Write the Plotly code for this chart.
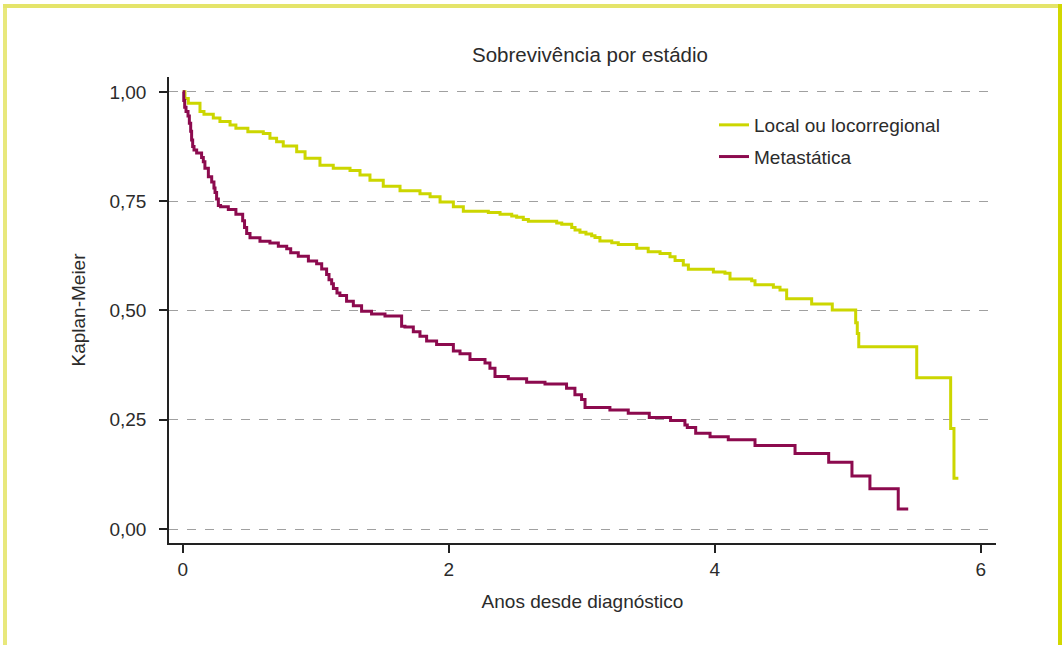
import plotly.graph_objects as go

# ---- data ----
local_t = [0, 0.017, 0.042, 0.13, 0.16, 0.23, 0.28, 0.356, 0.40, 0.49, 0.606, 0.656, 0.706,
           0.756, 0.857, 0.92, 1.032, 1.132, 1.258, 1.333, 1.408, 1.508, 1.634, 1.784, 1.86,
           1.935, 2.035, 2.11, 2.298, 2.386, 2.474, 2.511, 2.561, 2.599, 2.812, 2.85, 2.925,
           2.95, 2.987, 3.032, 3.075, 3.1, 3.137, 3.226, 3.275, 3.414, 3.50, 3.589, 3.664,
           3.702, 3.764, 3.802, 3.99, 4.077, 4.115, 4.278, 4.303, 4.441, 4.491, 4.541, 4.729,
           4.884, 5.06, 5.072, 5.083, 5.519, 5.774, 5.799, 5.832]
local_s = [1.0, 0.985, 0.974, 0.955, 0.949, 0.94, 0.932, 0.924, 0.917, 0.909, 0.905, 0.894, 0.886,
           0.876, 0.863, 0.848, 0.832, 0.825, 0.82, 0.81, 0.798, 0.784, 0.774, 0.767, 0.76,
           0.748, 0.737, 0.727, 0.724, 0.72, 0.716, 0.713, 0.708, 0.704, 0.70, 0.697, 0.69,
           0.684, 0.679, 0.675, 0.671, 0.667, 0.659, 0.655, 0.651, 0.642, 0.634, 0.63, 0.623,
           0.614, 0.604, 0.594, 0.588, 0.585, 0.572, 0.568, 0.559, 0.553, 0.547, 0.527, 0.515,
           0.501, 0.472, 0.447, 0.417, 0.346, 0.23, 0.116, 0.116]

meta_t = [0, 0.008, 0.015, 0.025, 0.04, 0.05, 0.06, 0.067, 0.075, 0.085, 0.105, 0.142, 0.155,
          0.167, 0.193, 0.218, 0.235, 0.243, 0.255, 0.268, 0.285, 0.343, 0.40, 0.451, 0.465,
          0.481, 0.506, 0.581, 0.656, 0.719, 0.782, 0.812, 0.869, 0.945, 1.007, 1.045, 1.082,
          1.10, 1.12, 1.133, 1.16, 1.182, 1.232, 1.283, 1.345, 1.42, 1.521, 1.646, 1.671,
          1.734, 1.784, 1.834, 1.909, 2.035, 2.085, 2.16, 2.273, 2.31, 2.348, 2.448, 2.586,
          2.724, 2.886, 2.949, 2.999, 3.025, 3.212, 3.35, 3.508, 3.668, 3.776, 3.794, 3.857,
          3.965, 4.102, 4.303, 4.604, 4.857, 5.032, 5.167, 5.38, 5.455]
meta_s = [1.0, 0.98, 0.965, 0.955, 0.945, 0.928, 0.91, 0.89, 0.875, 0.867, 0.86, 0.85, 0.84,
          0.825, 0.806, 0.794, 0.78, 0.77, 0.755, 0.74, 0.737, 0.731, 0.72, 0.705, 0.69,
          0.676, 0.666, 0.658, 0.654, 0.647, 0.641, 0.632, 0.624, 0.613, 0.607, 0.595, 0.582,
          0.57, 0.561, 0.55, 0.54, 0.534, 0.521, 0.511, 0.498, 0.492, 0.487, 0.464, 0.462,
          0.451, 0.441, 0.43, 0.422, 0.407, 0.401, 0.388, 0.38, 0.368, 0.349, 0.344, 0.336,
          0.332, 0.322, 0.307, 0.296, 0.278, 0.272, 0.265, 0.255, 0.248, 0.238, 0.232, 0.219,
          0.211, 0.204, 0.191, 0.173, 0.153, 0.121, 0.092, 0.046, 0.046]

series_names = ["Local ou locorregional", "Metastática"]
y_ticks = [0, 0.25, 0.5, 0.75, 1.0]
y_tick_labels = ["0,00", "0,25", "0,50", "0,75", "1,00"]
x_ticks = [0, 2, 4, 6]

title_text = "Sobrevivência por estádio"
x_title = "Anos desde diagnóstico"
y_title = "Kaplan-Meier"

YELLOW = "#ccd600"
PURPLE = "#8c0a4e"
TXT = "#2b2b2b"
FONT = "Liberation Sans, Arial, sans-serif"

W, H = 1064, 645
ML, MR, MT, MB = 169, 68, 77, 102
PW, PH = W - ML - MR, H - MT - MB


def px(x):
    return (x - ML) / PW


def py(y):
    return (H - MB - y) / PH


fig = go.Figure()
fig.add_trace(go.Scatter(x=local_t, y=local_s, mode="lines", line_shape="hv",
                         line=dict(color=YELLOW, width=3), name=series_names[0],
                         legendgroup="a"))
fig.add_trace(go.Scatter(x=meta_t, y=meta_s, mode="lines", line_shape="hv",
                         line=dict(color=PURPLE, width=3), name=series_names[1],
                         legendgroup="b"))

shapes = []
# page frame
shapes.append(dict(type="line", xref="paper", yref="paper", x0=px(5), x1=px(5), y0=py(6), y1=py(660),
                   line=dict(color="#e8e87c", width=4), layer="above"))
shapes.append(dict(type="line", xref="paper", yref="paper", x0=px(3), x1=px(1062), y0=py(6), y1=py(6),
                   line=dict(color="#e4e46a", width=4), layer="above"))
shapes.append(dict(type="line", xref="paper", yref="paper", x0=px(1060), x1=px(1060), y0=py(4), y1=py(660),
                   line=dict(color="#d2d800", width=4), layer="above"))

fig.update_layout(
    width=W, height=H,
    margin=dict(l=ML, r=MR, t=MT, b=MB),
    paper_bgcolor="white", plot_bgcolor="white",
    font=dict(family=FONT, size=19, color=TXT),
    title=dict(text=title_text, xref="container", x=590 / W, xanchor="center",
               y=1 - 55 / H, yanchor="middle", font=dict(size=20.5, color=TXT)),
    shapes=shapes,
    showlegend=True,
    legend=dict(x=px(714), y=py(106), xanchor="left", yanchor="top", tracegroupgap=4,
                bgcolor="rgba(0,0,0,0)", font=dict(size=19, color=TXT)),
    xaxis=dict(range=[-0.103, 6.115], tickvals=x_ticks, ticktext=[str(v) for v in x_ticks],
               showgrid=False, zeroline=False, showline=True, linecolor="#222", linewidth=1.5,
               ticks="outside", ticklen=8, tickcolor="#222", tickwidth=1.5,
               tickfont=dict(size=19),
               title=dict(text=x_title, standoff=16, font=dict(size=19)), mirror=False),
    yaxis=dict(range=[-0.032, 1.034], tickvals=y_ticks, ticktext=y_tick_labels,
               showgrid=True, gridcolor="#a0a0a0", griddash="dash", gridwidth=1.2,
               zeroline=False, showline=True, linecolor="#222", linewidth=1.5,
               ticks="outside", ticklen=8, tickcolor="#222", tickwidth=1.5,
               tickfont=dict(size=19), ticklabelstandoff=9,
               title=dict(text=y_title, standoff=19, font=dict(size=19)), mirror=False),
)

fig.write_html("out.html", config={"displayModeBar": False},
               post_script="document.body.style.margin='0';document.body.style.overflow='hidden';")
